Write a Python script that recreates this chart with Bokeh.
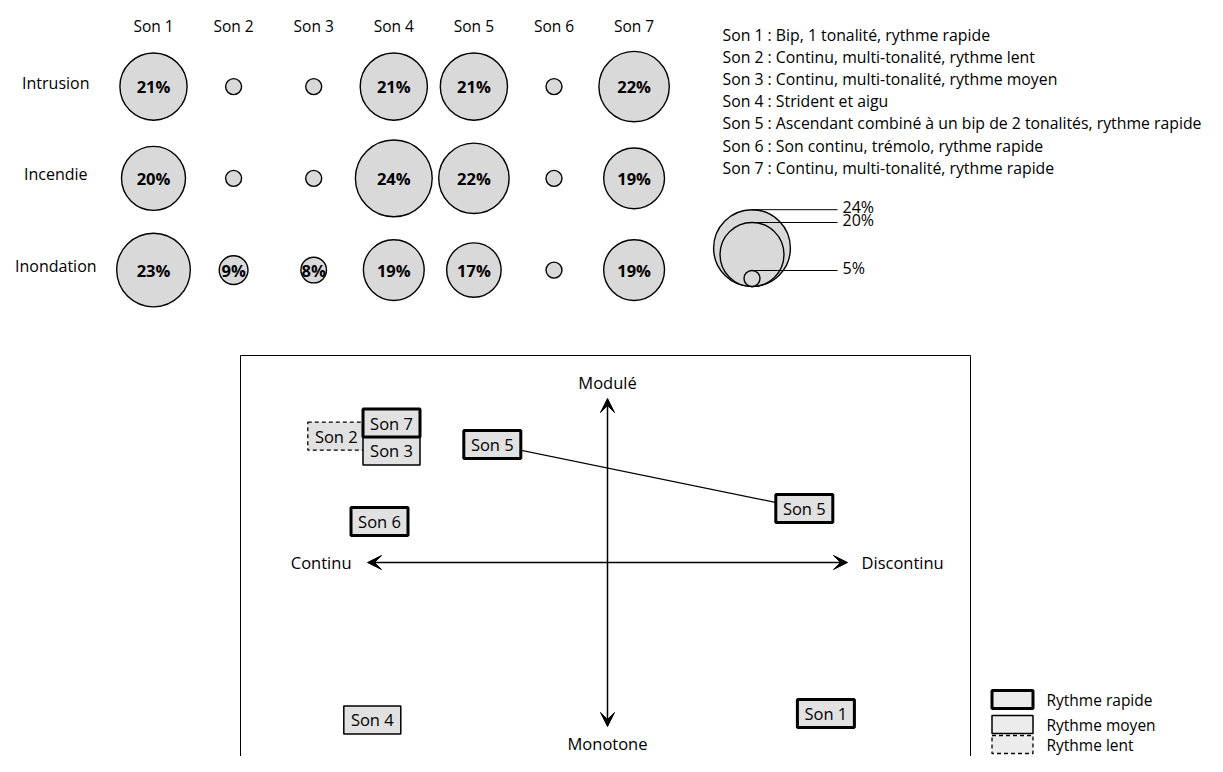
from bokeh.plotting import figure
from bokeh.models import Range1d, Arrow, VeeHead, ColumnDataSource
from bokeh.core.properties import value
from bokeh.embed import file_html
from bokeh.resources import INLINE

# ---------------- data ----------------
sons = ["Son 1", "Son 2", "Son 3", "Son 4", "Son 5", "Son 6", "Son 7"]
scenarios = ["Intrusion", "Incendie", "Inondation"]
pct_intrusion = [21, None, None, 21, 21, None, 22]
pct_incendie = [20, None, None, 24, 22, None, 19]
pct_inondation = [23, 9, 8, 19, 17, None, 19]
descriptions = [
    "Son 1 : Bip, 1 tonalité, rythme rapide",
    "Son 2 : Continu, multi-tonalité, rythme lent",
    "Son 3 : Continu, multi-tonalité, rythme moyen",
    "Son 4 : Strident et aigu",
    "Son 5 : Ascendant combiné à un bip de 2 tonalités, rythme rapide",
    "Son 6 : Son continu, trémolo, rythme rapide",
    "Son 7 : Continu, multi-tonalité, rythme rapide",
]
size_legend_pct = [24, 20, 5]
min_pct = 5  # unlabeled (small) values drawn at the smallest size

map_sons = ["Son 2", "Son 3", "Son 4", "Son 7", "Son 5", "Son 5", "Son 6", "Son 1"]
map_continu = [-1.13, -0.90, -0.98, -0.90, -0.48, 0.82, -0.95, 0.91]   # -1 Continu .. +1 Discontinu
map_module = [0.77, 0.68, -0.96, 0.85, 0.72, 0.33, 0.25, -0.92]        # +1 Modulé .. -1 Monotone
map_rythme = ["lent", "moyen", "moyen", "rapide", "rapide", "rapide", "rapide", "rapide"]
rythme_levels = ["rapide", "moyen", "lent"]
rythme_names = ["Rythme rapide", "Rythme moyen", "Rythme lent"]
axis_labels = ["Continu", "Discontinu", "Modulé", "Monotone"]

# ---------------- styles ----------------
FONT = value("Open Sans")
CIRCLE_FILL = "#d9d9d9"
BOX_FILL = "#e1e1e1"
LEG_FILL = "#ececec"
PX_PER_PCT = 3.2

W, H = 1207, 756          # figure size in screen pixels (1:1 layout space)

rythme_style = {
    "rapide": dict(line_width=3.0, line_dash="solid"),
    "moyen": dict(line_width=1.5, line_dash="solid"),
    "lent": dict(line_width=1.3, line_dash="4 3"),
}

p = figure(width=W, height=H, output_backend="svg", toolbar_location=None,
           x_range=Range1d(0, W), y_range=Range1d(H, 0),
           min_border=0, x_axis_location=None, y_axis_location=None,
           outline_line_color=None, background_fill_color="white")
p.xgrid.visible = False
p.ygrid.visible = False

# bubble grid ranges: column index / row index
bx0, bdx = 153.0, 80.1
by0, bdy = 86.1, 91.75
p.extra_x_ranges["bx"] = Range1d((0 - bx0) / bdx, (W - bx0) / bdx)
p.extra_y_ranges["by"] = Range1d((H - by0) / bdy, (0 - by0) / bdy)
# perceptual map ranges: scores in [-1, 1]
mx0, mdx = 607.0, 240.0
my0, mdy = 562.0, 164.0
p.extra_x_ranges["mx"] = Range1d((0 - mx0) / mdx, (W - mx0) / mdx)
p.extra_y_ranges["my"] = Range1d((my0 - H) / mdy, (my0 - 0) / mdy)

# ---------------- bubble grid ----------------
bx, byy, bsize, blab = [], [], [], []
for r, row in enumerate([pct_intrusion, pct_incendie, pct_inondation]):
    for i, v in enumerate(row):
        bx.append(i)
        byy.append(r)
        bsize.append(PX_PER_PCT * (v if v is not None else min_pct))
        blab.append(f"{v}%" if v is not None else "")
bsrc = ColumnDataSource(dict(x=bx, y=byy, size=bsize, label=blab))
p.scatter("x", "y", size="size", source=bsrc, marker="circle",
          fill_color=CIRCLE_FILL, line_color="black", line_width=1.4,
          x_range_name="bx", y_range_name="by")
p.text("x", "y", text="label", source=bsrc, text_align="center", text_baseline="middle",
       text_font=FONT, text_font_size="16.5px", text_font_style="bold", text_color="black",
       x_range_name="bx", y_range_name="by")

p.text(x=list(range(len(sons))), y=[-0.66] * len(sons), text=sons,
       text_align="center", text_baseline="middle", text_font=FONT, text_font_size="15.5px",
       text_color="black", x_range_name="bx", y_range_name="by")
p.text(x=[-1.22] * len(scenarios), y=list(range(len(scenarios))), text=scenarios,
       y_offset=-4, text_align="center", text_baseline="middle", text_font=FONT,
       text_font_size="16px", text_color="black", x_range_name="bx", y_range_name="by")

# ---------------- descriptions ----------------
p.text(x=[722] * len(descriptions), y=[34 + 22.2 * k for k in range(len(descriptions))],
       text=descriptions, text_align="left", text_baseline="middle", text_font=FONT,
       text_font_size="15.8px", text_color="black")

# ---------------- size legend ----------------
lx, lbottom = 751.5, 286
ld = [PX_PER_PCT * v for v in size_legend_pct]
ltop = [lbottom - d for d in ld]
p.scatter(x=[lx] * 3, y=[lbottom - d / 2 for d in ld], size=ld, marker="circle",
          fill_color=CIRCLE_FILL, line_color="black", line_width=1.4)
p.segment(x0=[lx] * 3, y0=ltop, x1=[837] * 3, y1=ltop, line_color="black", line_width=1)
p.text(x=[842] * 3, y=[t - 3 for t in ltop], text=[f"{v}%" for v in size_legend_pct],
       text_align="left", text_baseline="middle", text_font=FONT, text_font_size="16px",
       text_color="black")

# ---------------- perceptual map ----------------
p.line(x=[240, 240, 970, 970], y=[H, 355, 355, H], line_color="black", line_width=1)

arrow_kw = dict(line_color="black", line_width=1.5, x_range_name="mx", y_range_name="my")
head = lambda: VeeHead(size=14, fill_color="black", line_color="black", line_width=1)
p.add_layout(Arrow(x_start=-1, y_start=0, x_end=1, y_end=0, start=head(), end=head(), **arrow_kw))
p.add_layout(Arrow(x_start=0, y_start=-1, x_end=0, y_end=1, start=head(), end=head(), **arrow_kw))

lab_kw = dict(text_baseline="middle", text_font=FONT, text_font_size="16.5px",
              text_color="black", x_range_name="mx", y_range_name="my")
p.text(x=[-1], y=[0], text=[axis_labels[0]], text_align="right", x_offset=-16, **lab_kw)
p.text(x=[1], y=[0], text=[axis_labels[1]], text_align="left", x_offset=14, **lab_kw)
p.text(x=[0], y=[1], text=[axis_labels[2]], text_align="center", y_offset=-16, **lab_kw)
p.text(x=[0], y=[-1], text=[axis_labels[3]], text_align="center", y_offset=17, **lab_kw)

# connecting line between the two Son 5 positions
s5 = [k for k, s in enumerate(map_sons) if s == "Son 5"]
p.line(x=[map_continu[k] for k in s5], y=[map_module[k] for k in s5],
       line_color="black", line_width=1.3, x_range_name="mx", y_range_name="my")

for lvl in ["lent", "moyen", "rapide"]:
    idx = [k for k, r in enumerate(map_rythme) if r == lvl]
    src = ColumnDataSource(dict(x=[map_continu[k] for k in idx], y=[map_module[k] for k in idx],
                                label=[map_sons[k] for k in idx]))
    p.rect("x", "y", width=57, height=28, width_units="screen", height_units="screen",
           source=src, fill_color=BOX_FILL, line_color="black", x_range_name="mx",
           y_range_name="my", **rythme_style[lvl])
    p.text("x", "y", text="label", source=src, text_align="center", text_baseline="middle",
           text_font=FONT, text_font_size="16.5px", text_color="black",
           x_range_name="mx", y_range_name="my")

# ---------------- rythme legend ----------------
leg_y = [699, 724, 744]
for lvl, name, yy in zip(rythme_levels, rythme_names, leg_y):
    p.rect(x=[1012], y=[yy], width=41, height=18, width_units="screen",
           height_units="screen", fill_color=LEG_FILL, line_color="black",
           **rythme_style[lvl])
    p.text(x=[1046], y=[yy], text=[name], text_align="left", text_baseline="middle",
           text_font=FONT, text_font_size="15.5px", text_color="black")

open("out.html", "w").write(file_html(p, INLINE))
